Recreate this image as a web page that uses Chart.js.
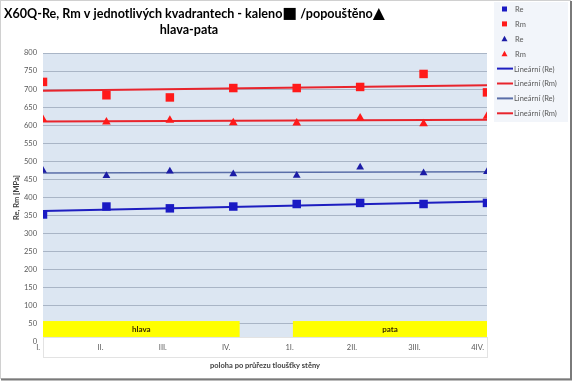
<!DOCTYPE html>
<html><head><meta charset="utf-8">
<script src="https://cdn.jsdelivr.net/npm/chart.js@4/dist/chart.umd.min.js"></script>
<style>html,body{margin:0;padding:0;background:#fff;overflow:hidden}</style>
</head><body>
<canvas id="c" width="574" height="381"></canvas>
<script>
// ---- data ----
const categories = ['I.', 'II.', 'III.', 'IV.', '1I.', '2II.', '3III.', '4IV.'];
const reKaleno     = [353, 375, 370, 375, 382, 385, 382, 385];
const rmKaleno     = [720, 683, 677, 703, 703, 706, 742, 691];
const rePopousteno = [475, 460, 473, 465, 461, 484, 468, 471];
const rmPopousteno = [616, 609, 614, 607, 606, 620, 604, 625];
const seriesLabels = ['Re', 'Rm', 'Re', 'Rm', 'Lineární (Re)', 'Lineární (Rm)', 'Lineární (Re)', 'Lineární (Rm)'];
const zoneLabels = ['hlava', 'pata'];
const zoneFrom = [1, 4.94];
const zoneTo = [4.1, 8];
const zoneLow = 14, zoneHigh = 58;
// title line 1 as text pieces; odd pieces are the marker symbols
const titleLine1 = ['X60Q-Re, Rm v jednotlivých kvadrantech - kaleno', '\u25A0', ' /popouštěno', '\u25B2'];
const titleLine2 = 'hlava-pata';
const yTitle = 'Re, Rm [MPa]';
const xTitle = 'poloha po průřezu tloušťky stěny';

const xs = categories.map((_, i) => i + 1);
const pts = arr => arr.map((v, i) => ({x: xs[i], y: v}));
function trend(arr) {
  const n = arr.length;
  const mx = xs.reduce((a, b) => a + b, 0) / n;
  const my = arr.reduce((a, b) => a + b, 0) / n;
  let sxy = 0, sxx = 0;
  arr.forEach((v, i) => { sxy += (xs[i] - mx) * (v - my); sxx += (xs[i] - mx) ** 2; });
  const b = sxy / sxx, a = my - b * mx;
  return [{x: xs[0], y: a + b * xs[0]}, {x: xs[n - 1], y: a + b * xs[n - 1]}];
}

const BLUE = '#1a1ac4', BLUE2 = '#1c1ca6', RED = '#ff1a1a', REDL = '#e8242c', GRAYBLUE = '#5a6ea8';
const FONT = 'Lato, "Open Sans", sans-serif';
const SYMFONT = '"DejaVu Sans", sans-serif';

const bgPlugin = {
  id: 'bg',
  beforeDraw(chart) {
    const {ctx, chartArea: a} = chart;
    ctx.save();
    ctx.fillStyle = '#fff';
    ctx.fillRect(0, 0, chart.width, chart.height);
    ctx.fillStyle = '#f2f5fa';
    ctx.fillRect(494, 2, 74, 120);
    ctx.fillStyle = '#dce6f2';
    ctx.fillRect(a.left, a.top, a.right - a.left, a.bottom - a.top - 5);
    ctx.fillStyle = '#ffffff';
    ctx.fillRect(a.left, a.bottom - 5, a.right - a.left, 21);
    ctx.strokeStyle = '#e3e3e3';
    ctx.lineWidth = 1;
    ctx.strokeRect(a.left + 0.5, a.bottom - 4.5, a.right - a.left, 20);
    ctx.restore();
  },
  beforeDatasetsDraw(chart) {
    const {ctx, scales: {x, y}} = chart;
    ctx.save();
    zoneLabels.forEach((lab, i) => {
      const x0 = x.getPixelForValue(zoneFrom[i]), x1 = x.getPixelForValue(zoneTo[i]);
      const y0 = y.getPixelForValue(zoneHigh), y1 = y.getPixelForValue(zoneLow);
      ctx.fillStyle = '#ffff00';
      ctx.fillRect(x0, y0, x1 - x0, y1 - y0);
      ctx.fillStyle = '#3a2a00';
      ctx.font = 'bold 8px ' + FONT;
      ctx.textAlign = 'center';
      ctx.textBaseline = 'middle';
      ctx.fillText(lab, (x0 + x1) / 2, (y0 + y1) / 2);
    });
    ctx.restore();
  },
  afterDraw(chart) {
    const {ctx} = chart;
    ctx.save();
    // title: line 1 spans x 4..385 in the reference
    ctx.fillStyle = '#000';
    ctx.textBaseline = 'alphabetic';
    ctx.textAlign = 'left';
    const fontFor = (i, s) => i % 2 ? 'bold ' + (s * 1.25).toFixed(2) + 'px ' + SYMFONT : 'bold ' + s.toFixed(2) + 'px ' + FONT;
    const widthAt = s => titleLine1.reduce((acc, t, i) => { ctx.font = fontFor(i, s); return acc + ctx.measureText(t).width; }, 0);
    const fs = Math.min(15, 14 * 381 / widthAt(14));
    let cx = 4;
    titleLine1.forEach((t, i) => {
      ctx.font = fontFor(i, fs);
      ctx.fillText(t, cx, 18);
      cx += ctx.measureText(t).width;
    });
    ctx.font = 'bold ' + fs.toFixed(2) + 'px ' + FONT;
    ctx.textAlign = 'center';
    ctx.textBaseline = 'middle';
    ctx.fillText(titleLine2, 189, 30);
    // legend
    const ds = chart.data.datasets;
    ctx.font = '7.5px ' + FONT;
    ctx.textAlign = 'left';
    ds.forEach((d, i) => {
      const yy = 9 + i * 14.9;
      ctx.fillStyle = d.borderColor;
      ctx.strokeStyle = d.borderColor;
      if (d.showLine) {
        ctx.lineWidth = 2;
        ctx.beginPath(); ctx.moveTo(497, yy); ctx.lineTo(513, yy); ctx.stroke();
      } else if (d.pointStyle === 'rect') {
        ctx.fillRect(502, yy - 2.5, 5, 5);
      } else {
        ctx.beginPath(); ctx.moveTo(504.5, yy - 3); ctx.lineTo(507.5, yy + 2.5); ctx.lineTo(501.5, yy + 2.5); ctx.closePath(); ctx.fill();
      }
      ctx.fillStyle = '#595959';
      ctx.fillText(d.label, d.showLine ? 514 : 515, yy + 0.5);
    });
    // outer frame
    ctx.strokeStyle = '#d0d0d0';
    ctx.lineWidth = 1;
    ctx.strokeRect(0.5, 0.5, 570, 378);
    ctx.strokeStyle = '#7a7a7a';
    ctx.lineWidth = 2;
    ctx.beginPath(); ctx.moveTo(1, 379.5); ctx.lineTo(571, 379.5); ctx.lineTo(571, 1); ctx.stroke();
    ctx.restore();
  }
};

const scatter = (label, arr, color, style, r) => ({
  label, data: pts(arr), showLine: false, pointStyle: style, pointRadius: r, pointHoverRadius: r,
  backgroundColor: color, borderColor: color, borderWidth: 0
});
const line = (label, arr, color, w) => ({
  label, data: trend(arr), showLine: true, pointRadius: 0, borderColor: color, backgroundColor: color, borderWidth: w, fill: false
});

new Chart(document.getElementById('c'), {
  type: 'scatter',
  data: {
    datasets: [
      scatter(seriesLabels[0], reKaleno, BLUE, 'rect', 6),
      scatter(seriesLabels[1], rmKaleno, RED, 'rect', 6),
      scatter(seriesLabels[2], rePopousteno, BLUE2, 'triangle', 4.5),
      scatter(seriesLabels[3], rmPopousteno, RED, 'triangle', 5),
      line(seriesLabels[4], reKaleno, '#1e1ec0', 2),
      line(seriesLabels[5], rmKaleno, REDL, 2),
      line(seriesLabels[6], rePopousteno, GRAYBLUE, 1.5),
      line(seriesLabels[7], rmPopousteno, REDL, 2)
    ]
  },
  options: {
    responsive: false,
    animation: false,
    devicePixelRatio: 1,
    layout: {padding: {top: 53, right: 87, left: 0, bottom: 0}},
    plugins: {legend: {display: false}, title: {display: false}, tooltip: {enabled: false}},
    scales: {
      x: {
        type: 'linear', min: 1, max: 8,
        afterFit: s => { s.height = 39; },
        grid: {display: false, drawTicks: false},
        border: {display: false},
        ticks: {stepSize: 1, autoSkip: false, maxRotation: 0, padding: 1, align: 'end', labelOffset: -3,
          color: '#595959', font: {family: FONT, size: 7.5},
          callback: v => categories[v - 1] ?? ''},
        title: {display: true, text: xTitle, color: '#404040', font: {family: FONT, size: 7.5, weight: 'bold'}, padding: {top: 0, bottom: 11}}
      },
      y: {
        min: 0, max: 800,
        afterFit: s => { s.width = 43; },
        grid: {drawTicks: false, color: c => c.tick && c.tick.value === 0 ? 'rgba(0,0,0,0)' : '#a9b5c6'},
        border: {display: false},
        ticks: {stepSize: 50, padding: 6, color: '#595959', font: {family: FONT, size: 7.5}},
        title: {display: true, text: yTitle, color: '#404040', font: {family: FONT, size: 7.5, weight: 'bold'}, padding: {top: 12, bottom: 0}}
      }
    }
  },
  plugins: [bgPlugin]
});
</script>
</body></html>
